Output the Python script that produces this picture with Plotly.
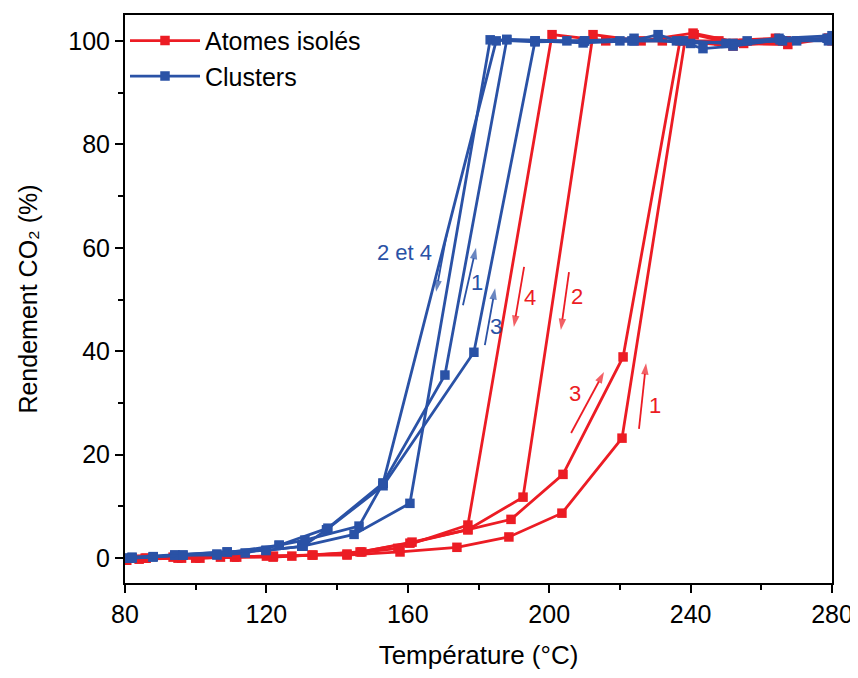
import plotly.graph_objects as go

RED = "#EC1C24"
BLUE = "#2A52A6"
FONT = "Liberation Sans, Arial, sans-serif"

# Atomes isolés (4 cycles)
red_c1_x = [80.5, 85.7, 93.6, 101.2, 111.6, 121.9, 132.9, 142.8, 157.8, 173.9, 188.6, 203.6, 220.6, 238.4, 241.0, 252.0, 267.5, 279.0]
red_c1_y = [-0.4, 0.0, 0.2, 0.0, 0.2, 0.2, 0.6, 0.6, 1.2, 2.1, 4.1, 8.7, 23.2, 100.0, 101.2, 99.5, 99.3, 100.5]
red_c2_x = [279.0, 267.0, 255.0, 240.7, 226.0, 212.4, 192.6, 177.0, 160.6, 146.5, 127.2, 111.0, 96.0, 84.0]
red_c2_y = [100.5, 100.0, 99.5, 101.5, 100.0, 101.2, 11.8, 5.5, 2.9, 1.2, 0.4, 0.2, 0.0, -0.2]
red_c3_x = [82.0, 95.0, 107.0, 122.0, 133.2, 147.0, 161.2, 177.0, 189.2, 203.9, 220.9, 237.0, 252.0, 267.0, 280.0]
red_c3_y = [0.0, 0.0, 0.2, 0.4, 0.6, 1.2, 3.1, 5.5, 7.5, 16.2, 38.9, 100.0, 99.0, 100.0, 100.5]
red_c4_x = [280.0, 264.0, 248.0, 232.0, 216.0, 200.8, 177.0, 157.2, 142.8, 120.0, 100.0, 86.0]
red_c4_y = [100.0, 100.5, 100.0, 100.0, 100.0, 101.2, 6.4, 1.9, 0.8, 0.4, 0.0, 0.0]

# Clusters (4 cycles)
blue_c1_x = [80.8, 88.0, 96.4, 106.0, 114.0, 123.6, 137.4, 153.0, 170.5, 188.0, 196.0, 209.6, 223.4, 230.8, 243.5, 252.0, 265.3, 278.6]
blue_c1_y = [0.0, 0.3, 0.6, 0.6, 1.0, 2.5, 5.8, 14.5, 35.4, 100.2, 100.0, 99.6, 100.0, 101.2, 98.5, 99.0, 100.2, 100.5]
blue_c2_x = [279.0, 266.0, 252.0, 238.0, 224.0, 210.0, 196.0, 183.3, 160.6, 144.8, 130.0, 119.9, 108.9, 94.1, 82.0]
blue_c2_y = [100.0, 100.0, 99.5, 100.0, 100.0, 100.0, 99.8, 100.2, 10.6, 4.6, 2.3, 1.5, 1.2, 0.6, 0.2]
blue_c3_x = [81.0, 87.9, 94.1, 108.9, 119.9, 130.4, 137.0, 153.0, 178.7, 196.0, 210.0, 224.0, 240.0, 256.0, 270.0, 280.0]
blue_c3_y = [0.0, 0.2, 0.6, 1.2, 1.5, 2.3, 5.5, 14.0, 39.8, 100.0, 100.0, 100.5, 99.5, 100.0, 100.0, 100.5]
blue_c4_x = [280.0, 265.0, 250.0, 236.0, 220.0, 205.0, 188.0, 185.0, 153.0, 146.2, 130.9, 123.6, 106.0, 96.4, 82.0]
blue_c4_y = [101.0, 100.5, 99.5, 100.0, 100.0, 100.0, 100.3, 100.0, 14.5, 6.2, 3.5, 2.5, 0.8, 0.6, 0.0]

red_cycles = [(red_c1_x, red_c1_y), (red_c2_x, red_c2_y), (red_c3_x, red_c3_y), (red_c4_x, red_c4_y)]
blue_cycles = [(blue_c1_x, blue_c1_y), (blue_c2_x, blue_c2_y), (blue_c3_x, blue_c3_y), (blue_c4_x, blue_c4_y)]

fig = go.Figure()
for i, (xs, ys) in enumerate(red_cycles):
    fig.add_trace(go.Scatter(x=xs, y=ys, mode="lines+markers", name="Atomes isolés",
                             legendgroup="red", showlegend=(i == 0),
                             line=dict(color=RED, width=2.8),
                             marker=dict(symbol="square", size=9.5, color=RED)))
for i, (xs, ys) in enumerate(blue_cycles):
    fig.add_trace(go.Scatter(x=xs, y=ys, mode="lines+markers", name="Clusters",
                             legendgroup="blue", showlegend=(i == 0),
                             line=dict(color=BLUE, width=2.8),
                             marker=dict(symbol="square", size=9.5, color=BLUE)))

# labels with arrows: (text, text_x, text_y, tail_x, tail_y, head_x, head_y, color)
labels = [
    ("2 et 4", 159.0, 59.0, 171.1, 62.9, 168.0, 51.5, BLUE),
    ("1", 179.6, 53.2, 175.6, 48.9, 179.3, 60.0, BLUE),
    ("3", 184.9, 44.7, 181.8, 41.2, 184.7, 52.2, BLUE),
    ("4", 194.6, 50.3, 192.9, 56.3, 190.0, 44.7, RED),
    ("2", 207.9, 50.5, 205.6, 55.3, 203.3, 44.1, RED),
    ("3", 207.3, 31.9, 206.2, 24.2, 215.5, 36.0, RED),
    ("1", 229.9, 29.6, 225.4, 25.0, 227.4, 37.7, RED),
]
for t, tx, ty, ax_, ay_, hx, hy, c in labels:
    fig.add_annotation(x=tx, y=ty, text=t, showarrow=False,
                       font=dict(family=FONT, size=22, color=c))
    fig.add_trace(go.Scatter(x=[ax_, hx], y=[ay_, hy], mode="lines+markers",
                             line=dict(color=c, width=1.8),
                             marker=dict(symbol=["circle", "arrow"], size=[0, 12], color=c,
                                         angleref="previous", line=dict(width=0)),
                             showlegend=False, hoverinfo="skip"))

axis_common = dict(showline=True, linecolor="black", linewidth=2, mirror=True,
                   ticks="outside", ticklen=8, tickwidth=2, tickcolor="black",
                   showgrid=False, zeroline=False, automargin=False,
                   tickfont=dict(family=FONT, size=25, color="black"))

fig.update_xaxes(range=[80, 280], dtick=40, tick0=80,
                 minor=dict(dtick=20, ticks="outside", ticklen=5, tickwidth=2, tickcolor="black"),
                 title=dict(text="Température (°C)", font=dict(family=FONT, size=26, color="black"),
                            standoff=26),
                 **axis_common)
fig.update_yaxes(range=[-4.8, 105], dtick=20, tick0=0,
                 minor=dict(dtick=10, ticks="outside", ticklen=5, tickwidth=2, tickcolor="black"),
                 title=dict(text="Rendement CO₂ (%)", font=dict(family=FONT, size=25, color="black"),
                            standoff=24),
                 **axis_common)

# page body adds an 8px offset; the figure is sized to compensate
fig.update_layout(
    width=848, height=662,
    margin=dict(l=117, r=24, t=7, b=87),
    plot_bgcolor="white", paper_bgcolor="white",
    legend=dict(x=0.0, y=0.995, xanchor="left", yanchor="top", bgcolor="rgba(0,0,0,0)",
                itemwidth=70, tracegroupgap=0,
                font=dict(family=FONT, size=25, color="black")),
)

fig.write_html("out.html")
